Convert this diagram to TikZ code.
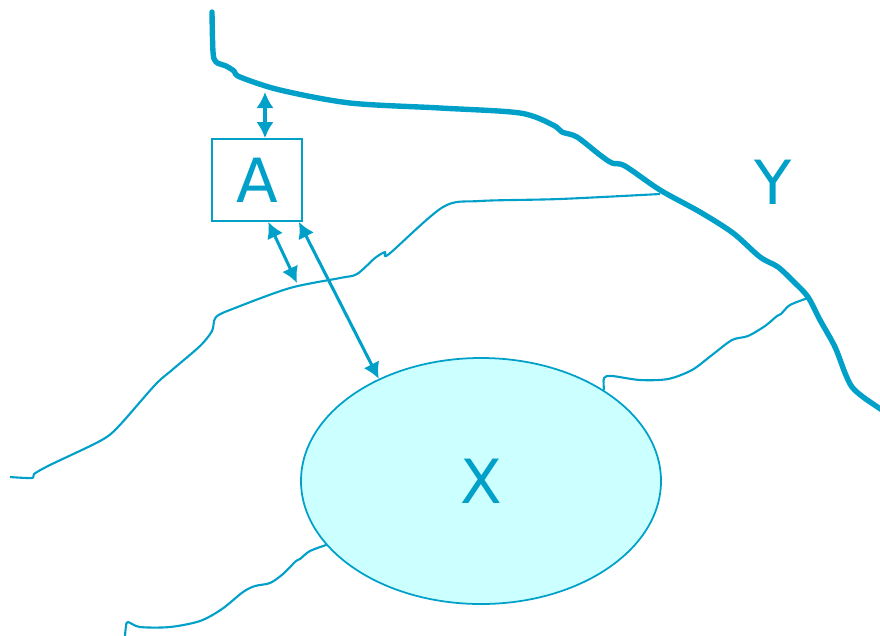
\documentclass[tikz,border=0pt]{standalone}
\usepackage{fontspec}
\setmainfont{DejaVu Sans}
\usepackage{xcolor}
\usepackage{tikz}
\usetikzlibrary{shapes.geometric, arrows.meta}
\definecolor{water}{RGB}{0,160,200}
\definecolor{lake}{RGB}{204,255,255}

\begin{document}
\begin{tikzpicture}[x=0.03cm, y=-0.03cm]
        \tikzstyle{river} = [draw=water, line width=4.6pt, line cap=round, line join=round]
        \tikzstyle{brook} = [draw=water, line width=1.8pt, line join=round]
        \tikzstyle{site} = [rectangle, draw=water, line width=1.5pt, minimum width=2.7cm, minimum height=2.46cm, inner sep=0pt, text=water, font=\fontsize{52}{60}\selectfont]
        \tikzstyle{basin} = [ellipse, draw=water, fill=lake, line width=1.5pt, minimum width=10.8cm, minimum height=7.38cm, inner sep=0pt, text=water, font=\fontsize{52}{60}\selectfont]
        \tikzstyle{tag} = [text=water, font=\fontsize{52}{60}\selectfont]
        \tikzstyle{arrow} = [draw=water, line width=2.6pt, >={Latex[length=4.8mm,width=5.2mm]}, <->]

        \useasboundingbox (0,0) rectangle (880,635);

        \draw [river] plot [smooth, tension=0.5] coordinates {(212,12) (213,52) (216,62) (226,66) (234,71) (240,77) (280,90) (350,103) (440,108) (520,113) (553,125) (562,132) (577,137) (600,155) (612,163) (625,166) (660,190) (700,212) (733,233) (760,257) (778,267) (795,283) (808,297) (820,320) (835,347) (845,373) (852,387) (863,397) (882,410)};
        \draw [brook] plot [smooth, tension=0.5] coordinates {(10,477) (32,478) (34,474) (50,465) (100,441) (118,427) (155,385) (172,370) (200,346) (212,331) (216,317) (235,308) (290,288) (340,278) (357,274) (375,258) (385,252) (389,254) (443,207) (480,201) (560,199) (660,194)};
        \draw [brook] plot [smooth, tension=0.5] coordinates {(604,390) (604,378) (612,376) (640,380) (668,379) (692,370) (712,355) (732,340) (748,336) (765,326) (777,316) (781,314) (790,305) (808,298)};
        \draw [brook] plot [smooth, tension=0.5] coordinates {(329,544) (310,551) (300,559) (296,561) (283,574) (270,583) (255,586) (243,592) (222,609) (200,621) (170,627) (140,627) (128,622) (126,626) (125,636)};

        \node (a) [site] at (257,180) {A};
        \node (x) [basin] at (481,481) {X};
        \node (y) [tag] at (773,182) {Y};
        \coordinate (bank) at (265,92);
        \coordinate (ford) at (297,283);

        \draw [arrow] (a.north -| bank) -- (bank);
        \draw [arrow] (a.285) -- (ford);
        \draw [arrow] (a.315) -- (x.135);
\end{tikzpicture}
\end{document}
